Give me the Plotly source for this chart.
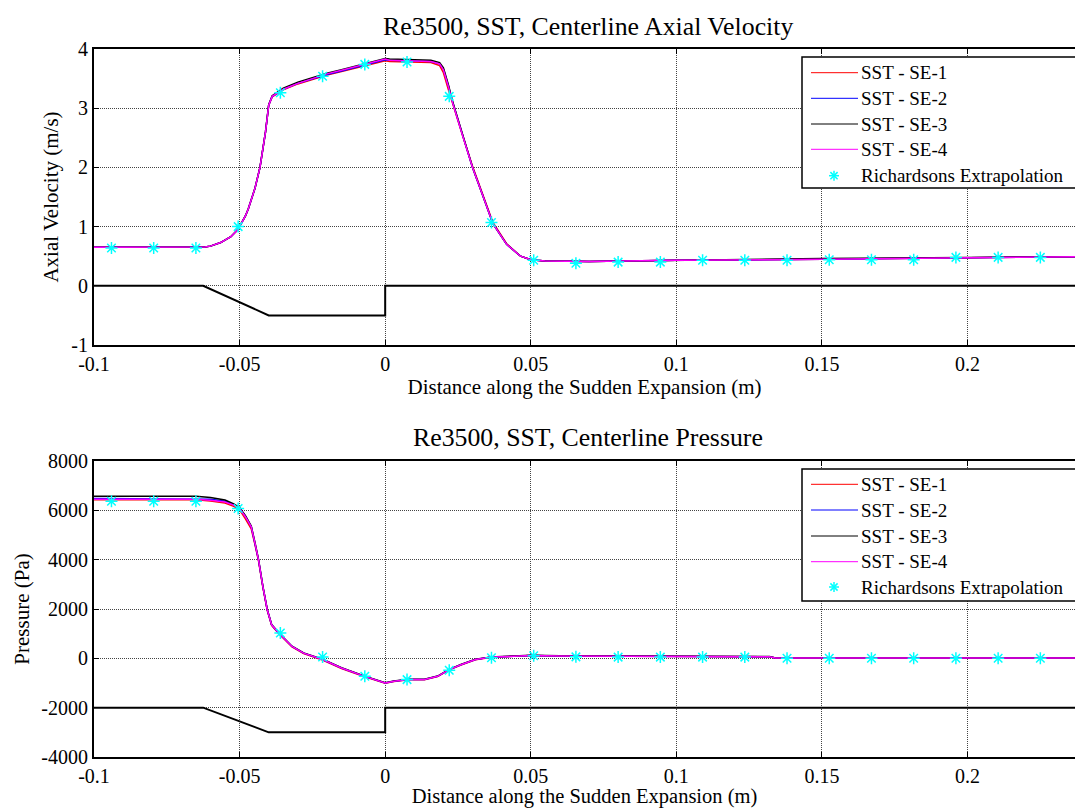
import plotly.graph_objects as go

# ---------------- data ----------------
# Centerline axial velocity (m/s) for the four mesh levels
vel_x = [-0.1, -0.08, -0.065, -0.062, -0.06, -0.0565, -0.053, -0.0506, -0.048, -0.047,
         -0.0447, -0.043, -0.0411, -0.04, -0.0388, -0.035, -0.03, -0.025, -0.02, -0.015,
         -0.01, -0.005, 0.0, 0.0015, 0.0075, 0.0157, 0.0187, 0.02, 0.0218, 0.023,
         0.0265, 0.03, 0.0337, 0.037, 0.0417, 0.0465, 0.05, 0.055, 0.07, 0.1,
         0.15, 0.2, 0.2369]
vel_se1 = [0.65, 0.65, 0.65, 0.655, 0.67, 0.73, 0.83, 0.95, 1.18, 1.3,
           1.65, 2.0, 2.6, 3.05, 3.19, 3.31, 3.41, 3.49, 3.56, 3.62,
           3.68, 3.74, 3.80, 3.79, 3.78, 3.77, 3.72, 3.6, 3.3, 3.1,
           2.55, 2.02, 1.52, 1.07, 0.71, 0.5, 0.44, 0.42, 0.41, 0.43,
           0.45, 0.47, 0.49]
vel_se2 = [0.65, 0.65, 0.65, 0.655, 0.67, 0.73, 0.83, 0.95, 1.18, 1.3,
           1.65, 2.0, 2.6, 3.05, 3.2, 3.32, 3.42, 3.5, 3.57, 3.63,
           3.69, 3.75, 3.82, 3.81, 3.80, 3.79, 3.75, 3.66, 3.36, 3.13,
           2.56, 2.0, 1.5, 1.05, 0.7, 0.5, 0.44, 0.42, 0.41, 0.43,
           0.45, 0.47, 0.49]
vel_se3 = [0.65, 0.65, 0.65, 0.655, 0.67, 0.73, 0.83, 0.95, 1.18, 1.3,
           1.65, 2.0, 2.6, 3.06, 3.21, 3.34, 3.44, 3.52, 3.59, 3.65,
           3.71, 3.77, 3.84, 3.83, 3.82, 3.81, 3.77, 3.68, 3.38, 3.14,
           2.57, 2.0, 1.5, 1.05, 0.7, 0.5, 0.44, 0.42, 0.41, 0.43,
           0.46, 0.48, 0.49]
vel_se4 = [0.65, 0.65, 0.65, 0.655, 0.67, 0.73, 0.83, 0.95, 1.18, 1.3,
           1.65, 2.0, 2.6, 3.05, 3.2, 3.32, 3.42, 3.5, 3.58, 3.64,
           3.70, 3.76, 3.83, 3.81, 3.80, 3.79, 3.75, 3.65, 3.35, 3.12,
           2.55, 2.0, 1.5, 1.05, 0.7, 0.5, 0.44, 0.42, 0.41, 0.43,
           0.45, 0.47, 0.49]

# Centerline pressure (Pa) for the four mesh levels
pres_x = [-0.1, -0.08, -0.065, -0.06, -0.055, -0.052, -0.05, -0.048, -0.046, -0.0447,
          -0.0435, -0.042, -0.0405, -0.039, -0.0365, -0.032, -0.028, -0.0215, -0.015, -0.007,
          0.0, 0.003, 0.008, 0.0135, 0.018, 0.022, 0.026, 0.031, 0.0365, 0.04,
          0.045, 0.05, 0.06, 0.09, 0.132, 0.134, 0.18, 0.2369]
pres_se1 = [6430, 6430, 6430, 6380, 6300, 6160, 6020, 5650, 5250, 4600,
            3950, 2880, 1950, 1340, 1000, 460, 190, -70, -410, -750,
            -1010, -940, -870, -870, -740, -470, -270, -60, 40, 60,
            100, 110, 90, 70, 60, 10, 10, 10]
pres_se2 = [6480, 6480, 6480, 6450, 6370, 6230, 6090, 5760, 5340, 4670,
            3990, 2910, 1970, 1360, 1020, 480, 210, -50, -390, -730,
            -1000, -930, -860, -860, -730, -460, -260, -50, 50, 60,
            100, 110, 90, 70, 60, 10, 10, 10]
pres_se3 = [6570, 6570, 6570, 6520, 6420, 6260, 6110, 5780, 5360, 4690,
            4010, 2920, 1980, 1370, 1030, 490, 220, -40, -380, -720,
            -990, -920, -850, -850, -720, -450, -250, -40, 55, 70,
            110, 120, 100, 80, 70, 10, 10, 10]
pres_se4 = [6450, 6450, 6450, 6410, 6340, 6210, 6075, 5740, 5330, 4660,
            3990, 2910, 1970, 1360, 1020, 480, 210, -50, -390, -730,
            -1000, -930, -860, -860, -730, -460, -260, -50, 50, 60,
            100, 110, 90, 70, 60, 10, 10, 10]

# Richardson extrapolation points
rich_x = [-0.094, -0.0795, -0.065, -0.0505, -0.036, -0.0215, -0.007, 0.0075, 0.022, 0.0365,
          0.051, 0.0655, 0.08, 0.0945, 0.109, 0.1235, 0.138, 0.1525, 0.167, 0.1815,
          0.196, 0.2105, 0.225]
rich_vel = [0.64, 0.64, 0.64, 1.0, 3.26, 3.54, 3.74, 3.78, 3.2, 1.07,
            0.43, 0.38, 0.40, 0.40, 0.43, 0.43, 0.43, 0.44, 0.44, 0.44,
            0.48, 0.48, 0.48]
rich_pres = [6370, 6370, 6370, 6074, 1024, 54, -727, -862, -485, 27,
             108, 60, 50, 50, 50, 50, 0, 0, 0, 0,
             0, 0, 0]

# Sudden-expansion wall outline drawn under each plot
geom_x = [-0.1, -0.0625, -0.04, 0.0, 0.0, 0.2369]
geom_vel = [0.0, 0.0, -0.5, -0.5, 0.0, 0.0]
geom_pres = [-2000, -2000, -3000, -3000, -2000, -2000]

series_names = ["SST - SE-1", "SST - SE-2", "SST - SE-3", "SST - SE-4"]
series_colors = ["#ff0000", "#0000ff", "#000000", "#ff00ff"]
rich_name = "Richardsons Extrapolation"
rich_color = "#00ffff"

x_ticks = [-0.1, -0.05, 0, 0.05, 0.1, 0.15, 0.2]
x_ticktext = ["-0.1", "-0.05", "0", "0.05", "0.1", "0.15", "0.2"]
vel_ticks = [-1, 0, 1, 2, 3, 4]
vel_ticktext = ["-1", "0", "1", "2", "3", "4"]
pres_ticks = [-4000, -2000, 0, 2000, 4000, 6000, 8000]
pres_ticktext = ["-4000", "-2000", "0", "2000", "4000", "6000", "8000"]

# ---------------- figure ----------------
W, H = 1075, 808
FONT = "Liberation Serif"
TICK_SIZE = 20
LABEL_SIZE = 21
TITLE_SIZE = 25.8
LEGEND_SIZE = 19

fig = go.Figure()

panels = [
    ("x", "y", geom_vel, [vel_se1, vel_se2, vel_se3, vel_se4], vel_x, rich_vel),
    ("x2", "y2", geom_pres, [pres_se1, pres_se2, pres_se3, pres_se4], pres_x, rich_pres),
]
for xa, ya, geom, series, sx, rich in panels:
    fig.add_trace(go.Scatter(x=geom_x, y=geom, mode="lines", xaxis=xa, yaxis=ya,
                             line=dict(color="black", width=2), showlegend=False,
                             hoverinfo="skip"))
    for name, color, vals in zip(series_names, series_colors, series):
        fig.add_trace(go.Scatter(x=sx, y=vals, mode="lines", name=name, xaxis=xa, yaxis=ya,
                                 showlegend=False, line=dict(color=color, width=1.5)))
    fig.add_trace(go.Scatter(x=rich_x, y=rich, mode="markers", name=rich_name,
                             xaxis=xa, yaxis=ya, showlegend=False,
                             marker=dict(symbol="asterisk", size=10, color=rich_color,
                                         line=dict(color=rich_color, width=1.5))))


def px_x(x):
    return x / W


def px_y(y):
    return 1 - y / H


def ydom(top_px, bottom_px):
    return [px_y(bottom_px), px_y(top_px)]


# ---------------- boxed legends (one per panel) ----------------
shapes = []
annotations = []


def add_legend(box_top, box_bottom, rows):
    shapes.append(dict(type="rect", xref="paper", yref="paper", layer="above",
                       x0=px_x(802), x1=px_x(W + 20), y0=px_y(box_bottom), y1=px_y(box_top),
                       line=dict(color="black", width=1.5), fillcolor="white"))
    labels = series_names + [rich_name]
    for i, (label, ry) in enumerate(zip(labels, rows)):
        if i < len(series_colors):
            shapes.append(dict(type="line", xref="paper", yref="paper", layer="above",
                               x0=px_x(811), x1=px_x(858), y0=px_y(ry), y1=px_y(ry),
                               line=dict(color=series_colors[i], width=1)))
        else:
            cx, r, d = 834, 5, 3.6
            for dx, dy in [(r, 0), (0, r), (d, d), (d, -d)]:
                shapes.append(dict(type="line", xref="paper", yref="paper", layer="above",
                                   x0=px_x(cx - dx), x1=px_x(cx + dx),
                                   y0=px_y(ry - dy), y1=px_y(ry + dy),
                                   line=dict(color=rich_color, width=1.5)))
        annotations.append(dict(text=label, xref="paper", yref="paper",
                                x=px_x(859), y=px_y(ry), xanchor="left", yanchor="middle",
                                showarrow=False,
                                font=dict(family=FONT, size=LEGEND_SIZE, color="black")))


add_legend(57, 188, [72.7, 98.3, 124, 149.3, 175.7])
add_legend(469, 601, [484.3, 510, 536, 561.7, 587])

annotations += [
    dict(text="Re3500, SST, Centerline Axial Velocity", xref="paper", yref="paper",
         x=px_x(588), y=px_y(26), xanchor="center", yanchor="middle", showarrow=False,
         font=dict(family=FONT, size=TITLE_SIZE, color="black")),
    dict(text="Re3500, SST, Centerline Pressure", xref="paper", yref="paper",
         x=px_x(588), y=px_y(437), xanchor="center", yanchor="middle", showarrow=False,
         font=dict(family=FONT, size=TITLE_SIZE, color="black")),
]

axis_common = dict(showline=True, linecolor="black", linewidth=2, ticks="inside",
                   ticklen=5, tickcolor="black", showgrid=True, gridcolor="#444444",
                   griddash="1px,1px", gridwidth=1, zeroline=False,
                   tickfont=dict(family=FONT, size=TICK_SIZE, color="black"))

xaxis_cfg = dict(axis_common, range=[-0.1, 0.2369], tickvals=x_ticks, ticktext=x_ticktext,
                 domain=[px_x(94), 1], mirror="ticks")
x_title = "Distance along the Sudden Expansion (m)"

fig.update_layout(
    width=W, height=H,
    margin=dict(l=0, r=0, t=0, b=0, autoexpand=False),
    paper_bgcolor="white", plot_bgcolor="white",
    font=dict(family=FONT, size=TICK_SIZE, color="black"),
    xaxis=dict(xaxis_cfg, anchor="y",
               title=dict(text=x_title, standoff=3,
                          font=dict(family=FONT, size=LABEL_SIZE, color="black"))),
    xaxis2=dict(xaxis_cfg, anchor="y2",
                title=dict(text=x_title, standoff=5,
                           font=dict(family=FONT, size=20.5, color="black"))),
    yaxis=dict(axis_common, range=[-1, 4], tickvals=vel_ticks, ticktext=vel_ticktext,
               domain=ydom(49, 345), anchor="x", mirror=False,
               title=dict(text="Axial Velocity (m/s)",
                          font=dict(family=FONT, size=LABEL_SIZE, color="black"), standoff=7)),
    yaxis2=dict(axis_common, range=[-4000, 8000], tickvals=pres_ticks, ticktext=pres_ticktext,
                domain=ydom(461, 757), anchor="x2", mirror=False,
                title=dict(text="Pressure (Pa)",
                           font=dict(family=FONT, size=LABEL_SIZE, color="black"), standoff=6)),
    shapes=shapes,
    annotations=annotations,
    showlegend=False,
)

fig.write_html("out.html")
